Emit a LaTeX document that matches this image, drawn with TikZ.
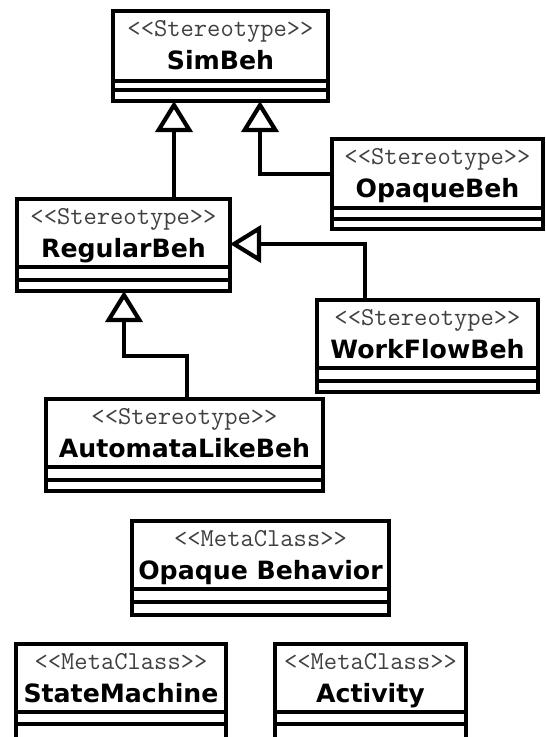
\documentclass[tikz,border=0pt]{standalone}
\usepackage{fontspec}
\newfontfamily\clsfont{DejaVu Sans}
\usetikzlibrary{arrows.meta}

\tikzset{
  clsbox/.style={draw=black, line width=4.2pt, fill=white, inner sep=0pt, outer sep=0pt},
  clsline/.style={draw=black, line width=4.2pt},
  stereo/.style={anchor=base, inner sep=0pt, text=black!75,
    font=\ttfamily\fontsize{25.8}{30}\selectfont},
  clsname/.style={anchor=base, inner sep=0pt, text=black,
    font=\clsfont\bfseries\fontsize{25.2}{30}\selectfont},
  gen/.style={draw=black, line width=4.2pt,
    -{Triangle[open, length=31pt, width=37pt]}},
}

% #1 name, #2 left, #3 top, #4 right, #5 bottom, #6 header line, #7 middle line,
% #8 stereotype, #9 class name
\newcommand\umlclass[9]{%
  \pgfmathsetmacro\clsw{#4-#2}%
  \pgfmathsetmacro\clsh{#5-#3}%
  \node[clsbox, minimum width=\clsw pt, minimum height=\clsh pt]
    (#1) at ({(#2+#4)/2},{(#3+#5)/2}) {};
  \node[stereo] (#1-st) at ({(#2+#4)/2},{#3+25}) {#8};
  \node[clsname] (#1-nm) at ({(#2+#4)/2},{#3+58}) {#9};
  \draw[clsline] (#2,#6) -- (#4,#6);
  \draw[clsline] (#2,#7) -- (#4,#7);
}

\begin{document}
\begin{tikzpicture}[x=1pt, y=-1pt]
  \useasboundingbox[fill=white] (0,0) rectangle (546,737);

  % stereotypes
  \umlclass{simbeh}{113}{11}{328}{101}{81}{90}{<<Stereotype>>}{SimBeh}
  \umlclass{opaquebeh}{332}{139}{543}{229}{208}{219}{<<Stereotype>>}{OpaqueBeh}
  \umlclass{regularbeh}{17}{199}{230}{291}{267}{280}{<<Stereotype>>}{RegularBeh}
  \umlclass{workflowbeh}{317}{300}{538}{392}{368}{381}{<<Stereotype>>}{WorkFlowBeh}
  \umlclass{automata}{46}{399}{323}{491}{467}{480}{<<Stereotype>>}{AutomataLikeBeh}

  % metaclasses
  \umlclass{opaquebehavior}{132}{521}{389}{615}{589}{602}{<<MetaClass>>}{Opaque Behavior}
  \umlclass{statemachine}{16}{644}{226}{748}{712}{724}{<<MetaClass>>}{StateMachine}
  \umlclass{activity}{275}{644}{466}{748}{712}{724}{<<MetaClass>>}{Activity}

  % generalizations
  \coordinate (g1) at (174,150);
  \draw[gen] (g1 |- regularbeh.north) -- (g1 |- simbeh.south);

  \coordinate (g2) at (260,174);
  \draw[gen] (g2 -| opaquebeh.west) -- (g2) -- (g2 |- simbeh.south);

  \coordinate (g3) at (365,244);
  \draw[gen] (g3 |- workflowbeh.north) -- (g3) -- (g3 -| regularbeh.east);

  \coordinate (g4a) at (187,356);
  \coordinate (g4b) at (124,356);
  \draw[gen] (g4a |- automata.north) -- (g4a) -- (g4b) -- (g4b |- regularbeh.south);
\end{tikzpicture}
\end{document}
